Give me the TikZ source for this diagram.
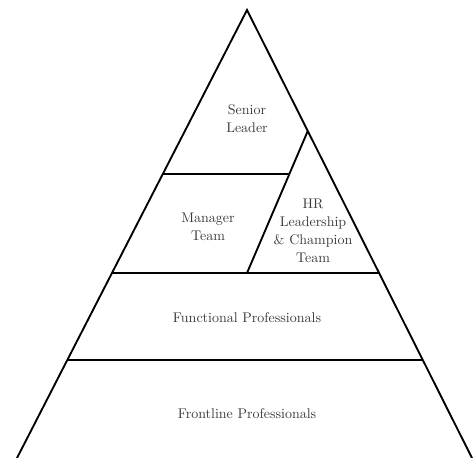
\documentclass[tikz,border=0pt]{standalone}
\usetikzlibrary{calc}
\definecolor{txtgray}{HTML}{3A3A3A}
\tikzset{
  edge/.style={line width=1.4pt, line join=miter, draw=black},
  label/.style={text=txtgray, font=\fontsize{10.5}{13.5}\selectfont, align=center, inner sep=0pt}
}
\begin{document}
\begin{tikzpicture}[x=0.75pt, y=-0.75pt]
\useasboundingbox (0,0) rectangle (474,457);
\clip (0,0) rectangle (474,457);
% main triangle
\coordinate (A) at (247,10);
\coordinate (L) at (17,458);
\coordinate (R) at (472,458);
\draw[edge] (L) -- (A) -- (R);
% level lines
\coordinate (l1) at ($(A)!164/448!(L)$);
\coordinate (l2) at ($(A)!263/448!(L)$);
\coordinate (r2) at ($(A)!263/448!(R)$);
\coordinate (l3) at ($(A)!350/448!(L)$);
\coordinate (r3) at ($(A)!350/448!(R)$);
% HR split line
\coordinate (Htop) at ($(A)!121/448!(R)$);
\coordinate (Hbot) at (247,273);
\coordinate (Hmid) at ($(Htop)!43/142!(Hbot)$);
\draw[edge] (l2) -- (r2);
\draw[edge] (l3) -- (r3);
\draw[edge] (Htop) -- (Hbot);
\draw[edge] (l1) -- (Hmid);
% labels
\node[label] (senior) at (247,118.5) {Senior\\Leader};
\node[label] (manager) at (208,226.5) {Manager\\Team};
\node[label] (hr) at (313,230.5) {HR\\Leadership\\\&~Champion\\Team};
\node[label] (func) at (247,318) {Functional Professionals};
\node[label] (front) at (247,414) {Frontline Professionals};
\end{tikzpicture}
\end{document}
